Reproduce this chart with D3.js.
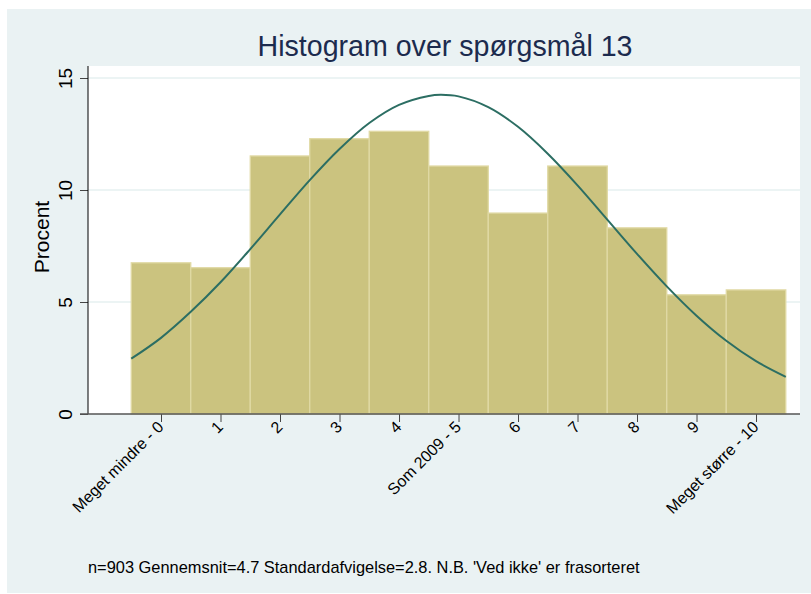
<!DOCTYPE html>
<html>
<head>
<meta charset="utf-8">
<style>
  body { margin: 0; background: #fff; font-family: "Liberation Sans", Arial, sans-serif; }
  svg { display: block; }
</style>
<title>Histogram over spørgsmål 13</title>
</head>
<body>
<script src="https://cdn.jsdelivr.net/npm/d3@7"></script>
<script>

// data //////////////////////////////////////////////////////////////////////

var answers  = [0, 1, 2, 3, 4, 5, 6, 7, 8, 9, 10];
var percents = [6.75, 6.53, 11.52, 12.29, 12.62, 11.07, 8.97, 11.07, 8.31, 5.32, 5.54];
var tickLabels = ["Meget mindre - 0", "1", "2", "3", "4", "Som 2009 - 5",
                  "6", "7", "8", "9", "Meget større - 10"];

// normal curve, every half step
var curveX = [-0.5, 0, 0.5, 1, 1.5, 2, 2.5, 3, 3.5, 4, 4.5, 4.7, 5, 5.5, 6,
              6.5, 7, 7.5, 8, 8.5, 9, 9.5, 10, 10.5];
var curveY = [2.47, 3.40, 4.56, 5.88, 7.36, 8.91, 10.44, 11.83, 12.99, 13.80, 14.20, 14.25, 14.18,
              13.70, 12.82, 11.62, 10.21, 8.68, 7.15, 5.70, 4.39, 3.27, 2.36, 1.66];

var yTicks = [0, 5, 10, 15];
var title = "Histogram over spørgsmål 13";
var yTitle = "Procent";
var note = "n=903 Gennemsnit=4.7 Standardafvigelse=2.8. N.B. 'Ved ikke' er frasorteret";

// layout ////////////////////////////////////////////////////////////////////

var W = 811, H = 594;
var plot = {left: 88, right: 800, top: 66, bottom: 414};

var svg = d3.select("body").append("svg")
    .attr("width", W)
    .attr("height", H);

svg.append("rect")
    .attr("x", 7).attr("y", 9)
    .attr("width", W - 7).attr("height", 584)
    .attr("fill", "#eaf2f3");

svg.append("rect")
    .attr("x", plot.left).attr("y", plot.top)
    .attr("width", plot.right - plot.left).attr("height", plot.bottom - plot.top)
    .attr("fill", "#fff");

var x = d3.scaleLinear()
    .domain([-1.227, 10.739])
    .range([plot.left, plot.right]);

var y = d3.scaleLinear()
    .domain([0, 15])
    .range([plot.bottom, 78]);

// grid
svg.append("g")
  .selectAll("line")
  .data(yTicks.filter(d => d > 0))
  .join("line")
    .attr("x1", plot.left).attr("x2", plot.right)
    .attr("y1", d => y(d)).attr("y2", d => y(d))
    .attr("stroke", "#e6f0f1")
    .attr("stroke-width", 1.5);

// bars
svg.append("g")
  .selectAll("rect")
  .data(answers)
  .join("rect")
    .attr("x", (d, i) => x(d - 0.5))
    .attr("y", (d, i) => y(percents[i]))
    .attr("width", x(1) - x(0))
    .attr("height", (d, i) => y(0) - y(percents[i]))
    .attr("fill", "#cbc37f")
    .attr("stroke", "#e0d9a4")
    .attr("stroke-width", 1.3);

// normal curve
var line = d3.line()
    .x((d, i) => x(curveX[i]))
    .y(d => y(d))
    .curve(d3.curveCatmullRom);

svg.append("path")
    .attr("d", line(curveY))
    .attr("fill", "none")
    .attr("stroke", "#2c6e63")
    .attr("stroke-width", 2);

// axes
var yAxis = d3.axisLeft(y)
    .tickValues(yTicks)
    .tickSize(8)
    .tickPadding(5);

var gy = svg.append("g")
    .attr("transform", `translate(${plot.left},0)`)
    .call(yAxis);
gy.select(".domain").remove();
gy.selectAll(".tick line").attr("stroke", "#444");
gy.selectAll(".tick text")
    .attr("font-family", "Liberation Sans, Arial, sans-serif")
    .attr("font-size", 19)
    .attr("fill", "#000")
    .attr("text-anchor", "middle")
    .attr("x", 0).attr("dy", 0)
    .attr("transform", "translate(-16,0) rotate(-90)");

svg.append("line")
    .attr("x1", plot.left).attr("x2", plot.left)
    .attr("y1", plot.top).attr("y2", plot.bottom)
    .attr("stroke", "#000");

var xAxis = d3.axisBottom(x)
    .tickValues(answers)
    .tickSize(8)
    .tickFormat((d, i) => tickLabels[i]);

var gx = svg.append("g")
    .attr("transform", `translate(0,${plot.bottom})`)
    .call(xAxis);
gx.select(".domain").remove();
gx.selectAll(".tick line").attr("stroke", "#444");
gx.selectAll(".tick text")
    .attr("font-family", "Liberation Sans, Arial, sans-serif")
    .attr("font-size", 16)
    .attr("fill", "#000")
    .attr("text-anchor", "end")
    .attr("y", 0).attr("dy", 0)
    .attr("transform", "translate(3,14) rotate(-45)");

svg.append("line")
    .attr("x1", 80).attr("x2", plot.right)
    .attr("y1", plot.bottom).attr("y2", plot.bottom)
    .attr("stroke", "#555")
    .attr("stroke-width", 1.5);

// texts
svg.append("text")
    .attr("x", (plot.left + plot.right) / 2 + 1)
    .attr("y", 56)
    .attr("text-anchor", "middle")
    .attr("font-size", 28.6)
    .attr("fill", "#1c2b4e")
    .text(title);

svg.append("text")
    .attr("transform", `translate(49,${(plot.top + plot.bottom) / 2 - 3}) rotate(-90)`)
    .attr("text-anchor", "middle")
    .attr("font-size", 21)
    .attr("fill", "#000")
    .text(yTitle);

svg.append("text")
    .attr("x", 88)
    .attr("y", 573)
    .attr("font-size", 16.4)
    .attr("fill", "#000")
    .text(note);

</script>
</body>
</html>
